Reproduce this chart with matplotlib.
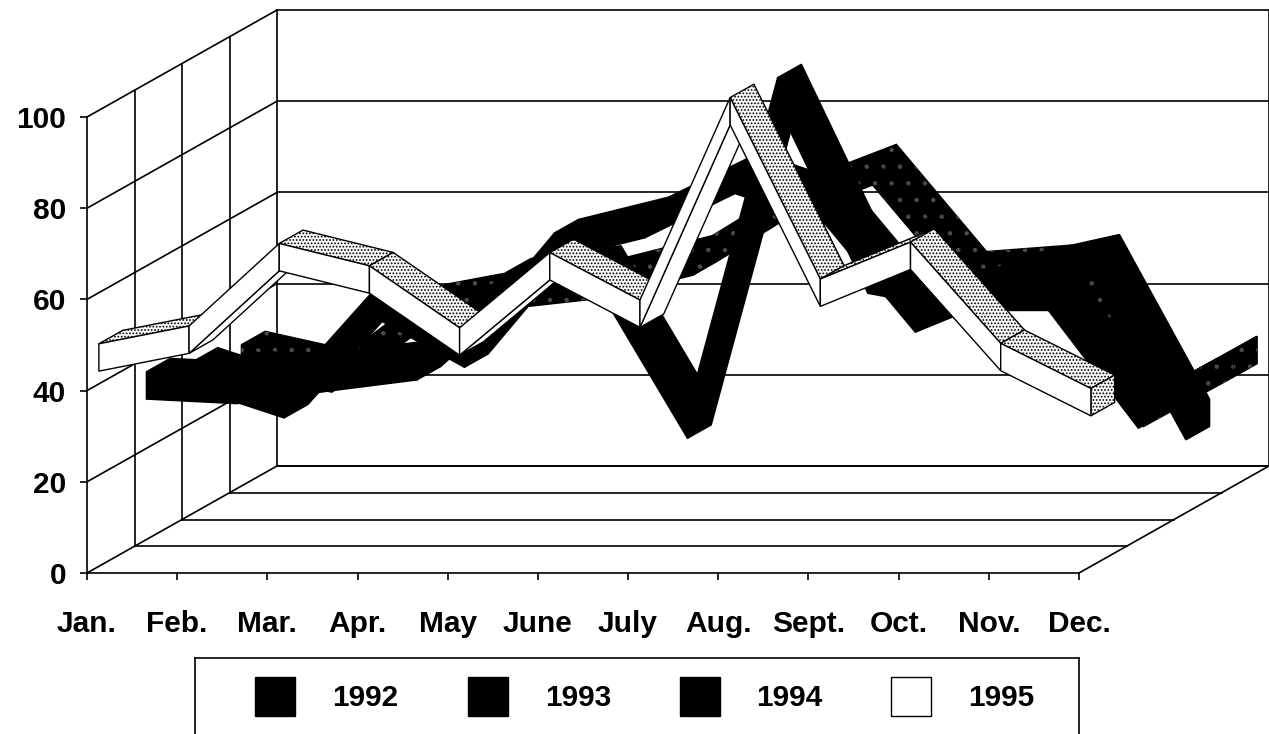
"""
# Monthly values 1992-95, as a 3D ribbon chart
"""

import matplotlib
matplotlib.use("Agg")
import numpy as np
import matplotlib.pyplot as plt
from matplotlib.patches import Polygon, Rectangle

plt.rcParams["font.family"] = ["Liberation Sans", "DejaVu Sans"]
plt.rcParams["font.weight"] = "bold"
plt.rcParams["hatch.linewidth"] = 0.8

months = ["Jan.", "Feb.", "Mar.", "Apr.", "May", "June", "July", "Aug.", "Sept.", "Oct.", "Nov.", "Dec."]
yticks = [0, 20, 40, 60, 80, 100]
years = ["1992", "1993", "1994", "1995"]

values_1992 = [28, 23.6, 38.3, 42, 44.2, 49.2, 61.4, 69, 45.5, 47, 16, 26.9]
values_1993 = [30.3, 23.8, 45.9, 34.9, 58.4, 63.3, 73, 66.3, 42.6, 50.7, 55.1, 19]
values_1994 = [33.8, 32.8, 35.5, 38, 55.7, 58.5, 25.2, 98.3, 57, 53.3, 53.3, 27.4]
values_1995 = [45.8, 49.7, 67.8, 62.9, 49.3, 65.8, 55.4, 99.8, 60, 68.1, 45.9, 36]

# Oblique projection: one depth slot, in months and in value units
DX = 47.5 / 90.18
DY = 26.75 / 4.56
HALF = 3.0  # half the ribbon height, value units
WIDTH = 0.5  # ribbon width, depth slots


def project(m, v, d):
    return (m + d * DX, v + d * DY)


def stipple(ax, pts, zorder):
    ax.add_patch(Polygon(pts, closed=True, facecolor="#f8f8f8", edgecolor="black",
                         hatch=".....", lw=1.0, clip_on=False, zorder=zorder))


def dark(ax, pts, zorder, specks=False):
    ax.add_patch(Polygon(pts, closed=True, facecolor="black", edgecolor="black",
                         lw=1.0, clip_on=False, zorder=zorder))
    if specks:
        ax.add_patch(Polygon(pts, closed=True, facecolor="none", edgecolor="#4a4a4a",
                             hatch=".", lw=0, clip_on=False, zorder=zorder))


def plain(ax, pts, zorder):
    ax.add_patch(Polygon(pts, closed=True, facecolor="white", edgecolor="black",
                         lw=1.0, clip_on=False, zorder=zorder))


def ribbon(ax, values, slot, style, base):
    """ Draw one ribbon in depth slot `slot`, back faces before front faces """

    d0 = slot + 0.25
    d1 = d0 + WIDTH
    n = len(values)

    for i in range(n - 1):
        m0, m1 = i, i + 1
        v0, v1 = values[i], values[i + 1]
        # Steeper than the depth direction means we see the underside, not the top
        if (v1 - v0) > DY * WIDTH / (DX * WIDTH):
            pts = [project(m0, v0 - HALF, d0), project(m1, v1 - HALF, d0),
                   project(m1, v1 - HALF, d1), project(m0, v0 - HALF, d1)]
            if style == "white":
                plain(ax, pts, base)
            else:
                dark(ax, pts, base, specks=style == "speck")
        else:
            pts = [project(m0, v0 + HALF, d0), project(m1, v1 + HALF, d0),
                   project(m1, v1 + HALF, d1), project(m0, v0 + HALF, d1)]
            if style == "white":
                stipple(ax, pts, base)
            else:
                dark(ax, pts, base, specks=style == "speck")

    # End cap at December
    cap = [project(n - 1, values[-1] - HALF, d0), project(n - 1, values[-1] - HALF, d1),
           project(n - 1, values[-1] + HALF, d1), project(n - 1, values[-1] + HALF, d0)]
    if style == "white":
        stipple(ax, cap, base + 0.1)
    else:
        dark(ax, cap, base + 0.1, specks=style == "speck")

    for i in range(n - 1):
        v0, v1 = values[i], values[i + 1]
        pts = [project(i, v0 - HALF, d0), project(i + 1, v1 - HALF, d0),
               project(i + 1, v1 + HALF, d0), project(i, v0 + HALF, d0)]
        if style == "white":
            plain(ax, pts, base + 0.2)
        else:
            dark(ax, pts, base + 0.2, specks=style == "speck")


def wall_line(ax, a, b):
    pa, pb = project(*a), project(*b)
    ax.plot([pa[0], pb[0]], [pa[1], pb[1]], color="black", lw=1.2, clip_on=False, zorder=1)


def walls(ax):
    top = yticks[-1]
    end = len(months) - 1
    for v in yticks:
        wall_line(ax, (0, v, 0), (0, v, 4))
        wall_line(ax, (0, v, 4), (end, v, 4))
    for d in range(1, 5):
        wall_line(ax, (0, 0, d), (0, top, d))
        wall_line(ax, (0, 0, d), (end, 0, d))
    wall_line(ax, (end, 0, 0), (end, 0, 4))
    wall_line(ax, (end, 0, 4), (end, top, 4))


fig = plt.figure(figsize=(12.69, 7.34), dpi=100)
ax = fig.add_axes([87 / 1269, 1 - 573 / 734, 992 / 1269, 456 / 734])
ax.set_xlim(0, len(months) - 1)
ax.set_ylim(0, 100)
ax.patch.set_visible(False)
ax.spines["top"].set_visible(False)
ax.spines["right"].set_visible(False)
ax.spines["left"].set_linewidth(1.2)
ax.spines["bottom"].set_linewidth(1.2)
ax.set_xticks(range(len(months)), months)
ax.set_yticks(yticks)
ax.tick_params(axis="x", length=5, width=1.2, pad=22, labelsize=21.5)
ax.tick_params(axis="y", length=5, width=1.2, pad=10, labelsize=21.5)

walls(ax)
ribbon(ax, values_1992, 3, "speck", 2)
ribbon(ax, values_1993, 2, "black", 3)
ribbon(ax, values_1994, 1, "black", 4)
ribbon(ax, values_1995, 0, "white", 5)

# Legend box runs off the bottom of the picture
lax = fig.add_axes([195 / 1269, 0, 884 / 1269, 76 / 734])
lax.set_xlim(195, 1079)
lax.set_ylim(734, 658)
lax.set_xticks([])
lax.set_yticks([])
lax.spines["bottom"].set_visible(False)
for s in ["top", "left", "right"]:
    lax.spines[s].set_linewidth(1.2)

swatch_x = [255, 468, 680, 891]
label_x = [365, 578, 789, 1001]
swatch_face = ["black", "black", "black", "white"]
for sx, lx, face, year in zip(swatch_x, label_x, swatch_face, years):
    lax.add_patch(Rectangle((sx, 677), 40, 39, facecolor=face, edgecolor="black", lw=1.0))
    lax.text(lx, 698, year, ha="center", va="center", fontsize=21.5, fontweight="bold")

fig.savefig("out.png", dpi=100)
